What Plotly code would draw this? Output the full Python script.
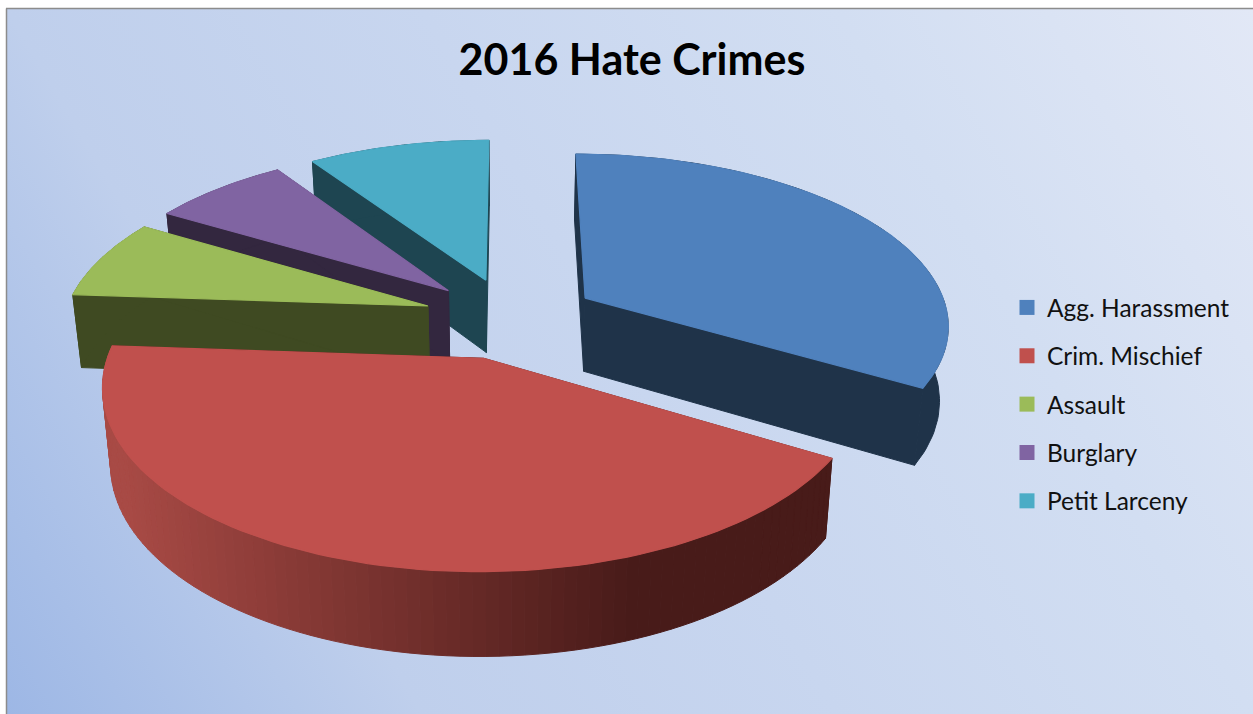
import base64
import numpy as np
import plotly.graph_objects as go

# Share of 2016 hate crimes by offence
categories = ["Agg. Harassment", "Crim. Mischief", "Assault", "Burglary", "Petit Larceny"]
values = [33.5, 42.6, 7.4, 7.1, 9.4]
top_colors = ["#4f81bd", "#c0504d", "#9bbb59", "#8064a2", "#4bacc6"]
wall_colors = ["#1f3349", "#4a1c1a", "#3f4a22", "#33273f", "#1e4551"]
chart_title = "2016 Hate Crimes"

WIDTH, HEIGHT = 1253, 714

# Pie camera: centre, radii, perspective strength, extrusion depth, explosion
CX, CY = 510.5, 318.0
RX, RY = 364.0, 170.0
PERSPECTIVE = 0.1435
DEPTH = 74.0
FLOOR_SHRINK = 0.98
EXPLODE = 0.24

# Red outer wall shading, left (lit) to right (shadowed), by screen position
RED_WALL_LIT = np.array([168, 74, 69])
RED_WALL_DARK = np.array([72, 27, 25])


def project(x, y, floor=False):
    """Map disc coordinates onto the page with a simple perspective."""
    x, y = np.asarray(x, float), np.asarray(y, float)
    s = 1.0 / (1.0 + PERSPECTIVE * y)
    sx = CX + RX * x * s * (FLOOR_SHRINK if floor else 1.0)
    sy = CY - RY * y * s + (DEPTH * s ** 0.7 if floor else 0.0)
    return sx, sy


def polygon(xs, ys, color, width=1.0):
    return go.Scatter(
        x=list(xs), y=list(ys), mode="lines", fill="toself", fillcolor=color,
        line=dict(color=color, width=width), hoverinfo="skip", showlegend=False,
    )


def rim(a0, a1, ox, oy, n=90):
    t = np.radians(np.linspace(a0, a1, n))
    return ox + np.sin(t), oy + np.cos(t)


fig = go.Figure()

# Slice angles, clockwise from twelve o'clock
edges = np.concatenate([[0.0], np.cumsum(values)]) / np.sum(values) * 360.0
spans = list(zip(edges[:-1], edges[1:]))

# Back slices first, the large front slice last
for i in [4, 3, 2, 0, 1]:
    a0, a1 = spans[i]
    mid = np.radians((a0 + a1) / 2)
    ox, oy = EXPLODE * np.sin(mid), EXPLODE * np.cos(mid)
    rx, ry = rim(a0, a1, ox, oy)
    apex_t = project(ox, oy)
    apex_b = project(ox, oy, floor=True)
    tx, ty = project(rx, ry)
    bx, by = project(rx, ry, floor=True)

    # Radial walls
    for k in (0, -1):
        fig.add_trace(polygon(
            [apex_t[0], tx[k], bx[k], apex_b[0], apex_t[0]],
            [apex_t[1], ty[k], by[k], apex_b[1], apex_t[1]],
            wall_colors[i]))

    # Outer wall: the red slice is shaded band by band
    if i == 1:
        for j in range(len(rx) - 1):
            f = np.clip((tx[j] - 130.0) / (640.0 - 130.0), 0, 1)
            rgb = RED_WALL_LIT + (RED_WALL_DARK - RED_WALL_LIT) * f
            c = "rgb(%d,%d,%d)" % tuple(rgb)
            fig.add_trace(polygon(
                [tx[j], tx[j + 1], bx[j + 1], bx[j], tx[j]],
                [ty[j], ty[j + 1], by[j + 1], by[j], ty[j]], c, 1.0))
    else:
        fig.add_trace(polygon(
            np.concatenate([tx, bx[::-1], tx[:1]]),
            np.concatenate([ty, by[::-1], ty[:1]]),
            wall_colors[i]))

    # Top face
    fig.add_trace(polygon(
        np.concatenate([[apex_t[0]], tx, [apex_t[0]]]),
        np.concatenate([[apex_t[1]], ty, [apex_t[1]]]),
        top_colors[i], 1.2))

# Legend entries
for i, name in enumerate(categories):
    fig.add_trace(go.Scatter(
        x=[None], y=[None], mode="markers", name=name, legendgroup=name,
        marker=dict(symbol="square", size=15, color=top_colors[i]),
    ))

# Page backdrop: wash running from the lower left toward the upper right
svg = (
    '<svg xmlns="http://www.w3.org/2000/svg" width="1246" height="705">'
    '<defs><linearGradient id="g" x1="0" y1="1" x2="1.2" y2="0.6">'
    '<stop offset="0" stop-color="#9db7e5"/>'
    '<stop offset="0.25" stop-color="#bfcfec"/>'
    '<stop offset="0.5" stop-color="#c8d6ef"/>'
    '<stop offset="0.75" stop-color="#d2def2"/>'
    '<stop offset="1" stop-color="#e2e8f6"/>'
    '</linearGradient></defs><rect width="1246" height="705" fill="url(#g)"/></svg>'
)
backdrop = "data:image/svg+xml;base64," + base64.b64encode(svg.encode()).decode()

fig.update_layout(
    width=WIDTH, height=HEIGHT,
    margin=dict(l=0, r=0, t=0, b=0),
    paper_bgcolor="white", plot_bgcolor="rgba(0,0,0,0)",
    xaxis=dict(range=[0, WIDTH], visible=False, fixedrange=True),
    yaxis=dict(range=[HEIGHT, 0], visible=False, fixedrange=True),
    title=dict(
        text="<b>%s</b>" % chart_title, x=632 / WIDTH, xanchor="center",
        y=1 - 60 / HEIGHT, yanchor="middle",
        font=dict(family="Lato", size=43, color="black"),
    ),
    legend=dict(
        x=1014 / WIDTH, xanchor="left", y=1 - 285 / HEIGHT, yanchor="top",
        font=dict(family="Lato", size=24.5, color="#111111"),
        bgcolor="rgba(0,0,0,0)", tracegroupgap=13.5, traceorder="grouped",
        indentation=-7,
    ),
    images=[dict(
        source=backdrop, xref="x", yref="y", x=7, y=9, sizex=1246, sizey=705,
        sizing="stretch", layer="below", xanchor="left", yanchor="top",
    )],
    shapes=[
        dict(type="line", xref="x", yref="y", x0=6.5, x1=6.5, y0=8.5, y1=714,
             line=dict(color="#8c8c8c", width=1.5)),
        dict(type="line", xref="x", yref="y", x0=6, x1=1253, y0=8.5, y1=8.5,
             line=dict(color="#8c8c8c", width=1.5)),
    ],
)

fig.write_html("out.html", config={"displayModeBar": False})
